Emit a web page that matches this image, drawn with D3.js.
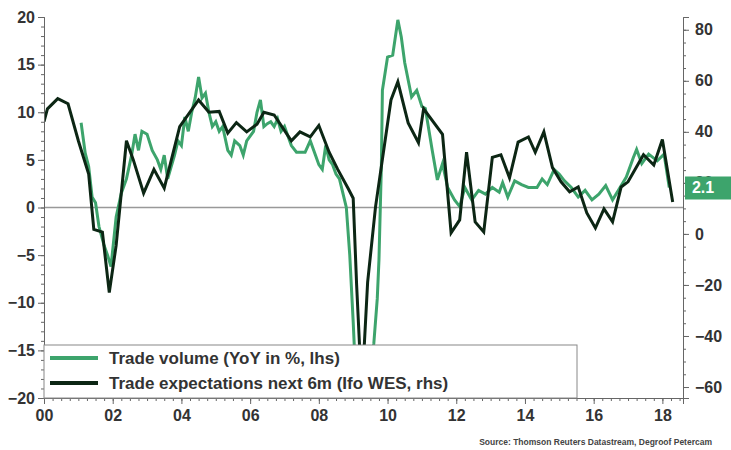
<!DOCTYPE html>
<html><head><meta charset="utf-8">
<script src="https://cdn.jsdelivr.net/npm/d3@7"></script>
<style>body{margin:0;background:#fff}</style>
</head><body>
<script>
// trade volume, YoY %, lhs  (year offset from 2000, value)
var volYears = [1.08,1.2,1.3,1.4,1.5,1.6,1.75,1.85,1.95,2.1,2.25,2.4,2.55,2.65,2.75,2.85,3.0,3.15,3.3,3.4,3.5,3.6,3.8,3.9,4.0,4.1,4.2,4.3,4.4,4.5,4.6,4.7,4.8,4.9,5.0,5.1,5.2,5.35,5.45,5.55,5.7,5.8,5.9,6.0,6.1,6.2,6.3,6.4,6.5,6.6,6.7,6.8,6.9,7.0,7.1,7.2,7.35,7.5,7.6,7.75,7.9,8.0,8.1,8.2,8.3,8.4,8.5,8.6,8.7,8.8,8.9,9.0,9.1,9.3,9.6,9.7,9.75,9.82,9.85,10.0,10.15,10.3,10.4,10.5,10.7,10.85,11.0,11.1,11.3,11.45,11.6,11.75,11.95,12.1,12.25,12.45,12.65,12.85,13.05,13.25,13.35,13.5,13.7,13.9,14.1,14.35,14.5,14.65,14.85,15.0,15.15,15.35,15.55,15.75,15.95,16.15,16.35,16.55,16.75,16.95,17.15,17.25,17.4,17.6,17.85,18.05,18.2];
var volValues = [8.9,5.7,4.3,1.1,0.5,-2,-4,-5,-6.2,-1,1.5,3,5.5,7.7,6,8,7.7,6,5,4,5.5,3,5.5,7,6.5,9.5,8,10,11.5,13.7,11.5,12,10,8.5,9,8,8.5,6,5.5,7,6.5,5.5,7,7.5,8,10,11.3,8.5,8.8,9,8.5,9.3,8,8.5,7.5,6.5,5.8,5.8,5.8,7,5.5,4.5,4,6.5,5,4.5,3.5,3,1.5,0,-5,-12,-20,-22,-14.3,-9.6,-5.5,4.3,12.3,15.8,16,19.7,17.9,15.2,11.6,12.3,10.6,10.4,6,2.9,4.6,2.1,0.8,0.1,2.1,0.8,1.8,1.4,2.1,1.6,2.6,1.1,2.8,2.4,2.1,2.1,3,2.4,4,3.5,2.8,2.1,1.1,1.8,0.8,1.4,2.3,0.8,2,3.2,5.2,6.1,4.6,5.6,4.9,5.6,2.1];
// Ifo WES trade expectations next 6m, rhs
var ifoYears = [0,0.1,0.4,0.7,1.0,1.3,1.45,1.7,1.9,2.1,2.4,2.6,2.9,3.2,3.5,3.95,4.5,4.8,5.1,5.35,5.6,5.9,6.2,6.4,6.7,7.2,7.45,7.75,8.0,8.3,8.55,8.85,9.0,9.1,9.25,9.42,9.65,10.1,10.3,10.6,10.9,11.05,11.6,11.85,12.1,12.3,12.55,12.8,13.05,13.3,13.55,13.8,14.1,14.3,14.55,14.8,15.05,15.3,15.55,15.8,16.05,16.3,16.55,16.8,17.0,17.45,17.75,18.0,18.3];
var ifoValues = [44,49,53,51,36.5,23.5,1.8,0.7,-23,-4.5,36.5,29,16,25.3,17.9,42,52.5,47.7,48,39.5,43.6,40,43,47.7,46.6,36.5,40,38,42.5,32,25.3,17.9,14,-20,-62,-19,10.6,52.5,59.6,43.5,35.7,49,39,0.4,5.5,32,4.7,0.8,30,31,22,36,38,32,40,26,20.4,16.5,18.4,8.2,2.3,9.8,4.7,18.4,20.4,31,27,37,12.5];
var xTicks = [0,2,4,6,8,10,12,14,16,18];
var lTicks = [-20,-15,-10,-5,0,5,10,15,20];
var rTicks = [-60,-40,-20,0,20,40,60,80];
var seriesNames = ["Trade volume (YoY in %, lhs)", "Trade expectations next 6m (Ifo WES, rhs)"];
var lastLabel = "2.1";

var W = 731, H = 450;
var green = "#3da46c", dark = "#0c2614", txt = "#333";
var svg = d3.select("body").append("svg").attr("width", W).attr("height", H)
  .style("font-family", "Liberation Sans, Arial, sans-serif");

var x = d3.scaleLinear().domain([0, 18.6]).range([44, 683]);
var yL = d3.scaleLinear().domain([-20, 20]).range([398, 17]);
var yR = d3.scaleLinear().domain([-64.3, 85]).range([398, 17]);

svg.append("clipPath").attr("id", "clip").append("rect")
  .attr("x", 44).attr("y", 17).attr("width", 639).attr("height", 381);

// zero line
svg.append("line").attr("x1", 44).attr("x2", 683).attr("y1", yL(0)).attr("y2", yL(0))
  .attr("stroke", "#999").attr("stroke-width", 1.5);

var g = svg.append("g").attr("clip-path", "url(#clip)");
g.append("path").datum(d3.zip(volYears, volValues))
  .attr("d", d3.line().x(d => x(d[0])).y(d => yL(d[1])))
  .attr("fill", "none").attr("stroke", green).attr("stroke-width", 3);
g.append("path").datum(d3.zip(ifoYears, ifoValues))
  .attr("d", d3.line().x(d => x(d[0])).y(d => yR(d[1])))
  .attr("fill", "none").attr("stroke", dark).attr("stroke-width", 3);

// axes
var ax = svg.append("g").attr("transform", "translate(0,398)")
  .call(d3.axisBottom(x).tickValues(d3.range(0, 18.6, 0.25)).tickSize(3).tickFormat(""));
ax.append("g").call(d3.axisBottom(x).tickValues(xTicks).tickSize(6)
  .tickFormat(d => d3.format("02")(d)));
var al = svg.append("g").attr("transform", "translate(44,0)")
  .call(d3.axisLeft(yL).tickValues(d3.range(-20, 20.1, 1)).tickSize(3).tickFormat(""));
al.append("g").call(d3.axisLeft(yL).tickValues(lTicks).tickSize(6));
var ar = svg.append("g").attr("transform", "translate(683,0)")
  .call(d3.axisRight(yR).tickValues(d3.range(-60, 85, 5)).tickSize(3).tickFormat(""));
ar.append("g").call(d3.axisRight(yR).tickValues(rTicks).tickSize(6));
svg.selectAll(".domain").attr("stroke", "#666");
svg.selectAll(".tick line").attr("stroke", "#666");
svg.selectAll(".tick text").attr("fill", txt).style("font-size", "16px").style("font-weight", "bold");
ax.selectAll(".tick text").attr("dy", "0.9em");
ar.selectAll(".tick text").attr("x", 12);

// last value label
var ly = yL(volValues[volValues.length - 1]);
svg.append("rect").attr("x", 685).attr("y", ly - 11).attr("width", 46).attr("height", 23).attr("fill", green);
svg.append("text").attr("x", 703).attr("y", ly + 6).attr("text-anchor", "middle")
  .attr("fill", "#fff").style("font-size", "16px").style("font-weight", "bold").text(lastLabel);

// legend
svg.append("rect").attr("x", 44).attr("y", 345).attr("width", 533).attr("height", 53)
  .attr("fill", "#fff").attr("stroke", "#888");
[green, dark].forEach(function (c, i) {
  var yy = 358 + i * 25;
  svg.append("line").attr("x1", 50).attr("x2", 98).attr("y1", yy).attr("y2", yy)
    .attr("stroke", c).attr("stroke-width", 4);
  svg.append("text").attr("x", 109).attr("y", yy + 6).attr("fill", txt)
    .style("font-size", "17px").style("font-weight", "bold").text(seriesNames[i]);
});

svg.append("text").attr("x", 712).attr("y", 445).attr("text-anchor", "end")
  .attr("fill", "#444").style("font-size", "8.5px").style("font-weight", "bold")
  .text("Source: Thomson Reuters Datastream, Degroof Petercam");
</script>
</body></html>
